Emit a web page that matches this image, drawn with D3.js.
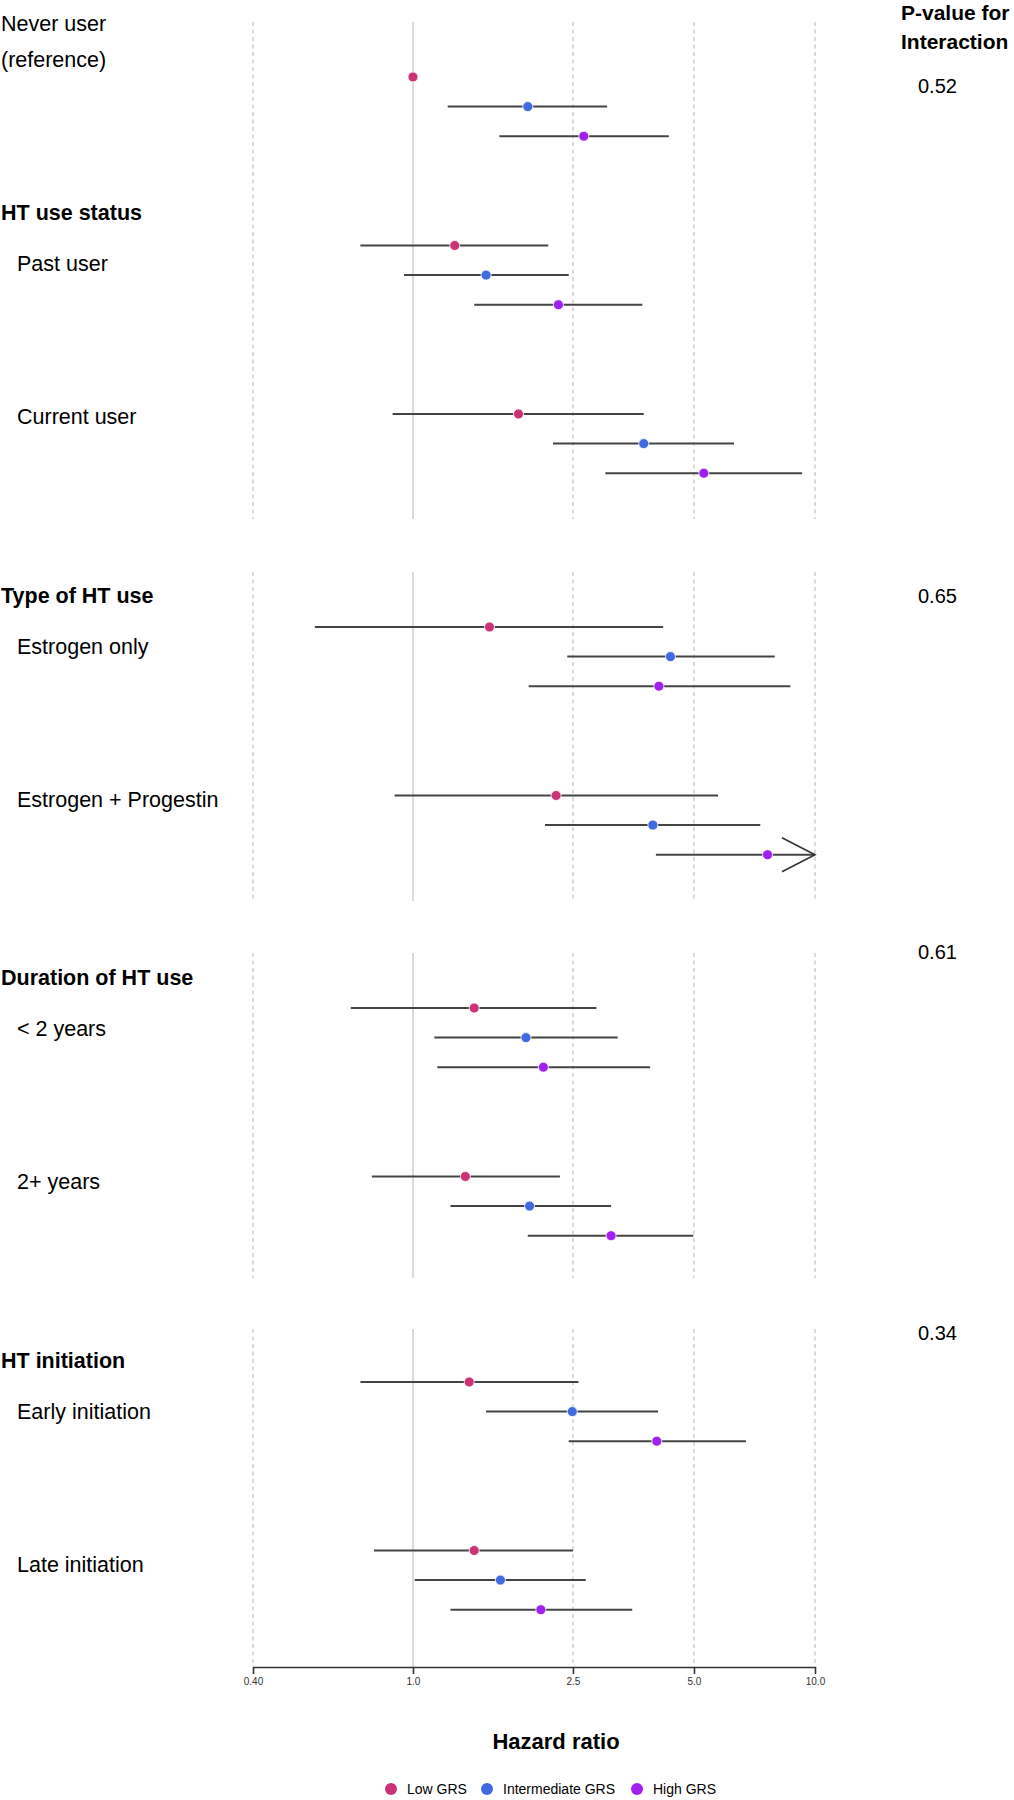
<!DOCTYPE html>
<html>
<head>
<meta charset="utf-8">
<script src="https://cdn.jsdelivr.net/npm/d3@7"></script>
<style>
  html, body { margin: 0; padding: 0; background: #fff; }
  svg { display: block; font-family: "Liberation Sans", Arial, Helvetica, sans-serif; }
</style>
</head>
<body>
<svg id="chart" width="1014" height="1800"></svg>
<script>
// ---------- DATA ----------
const panelHeadings = ["HT use status", "Type of HT use", "Duration of HT use", "HT initiation"];
const pValues = ["0.52", "0.65", "0.61", "0.34"];
const rowLabels = ["Never user (reference)", "Past user", "Current user", "Estrogen only", "Estrogen + Progestin", "< 2 years", "2+ years", "Early initiation", "Late initiation"];
const rowPanel = [0, 0, 0, 1, 1, 2, 2, 3, 3];
const seriesNames = ["Low GRS", "Intermediate GRS", "High GRS"];
const seriesColors = ["#CD3278", "#4169E1", "#A020F0"];

const hrLow    = [1.00, 1.27, 1.83, 1.55, 2.27, 1.42, 1.35, 1.38, 1.42];
const loLow    = [null, 0.74, 0.89, 0.57, 0.90, 0.70, 0.79, 0.74, 0.80];
const hiLow    = [null, 2.17, 3.75, 4.19, 5.74, 2.86, 2.32, 2.58, 2.50];
const hrInt    = [1.93, 1.52, 3.75, 4.37, 3.95, 1.91, 1.95, 2.49, 1.65];
const loInt    = [1.22, 0.95, 2.23, 2.42, 2.13, 1.13, 1.24, 1.52, 1.01];
const hiInt    = [3.04, 2.44, 6.29, 7.94, 7.31, 3.23, 3.11, 4.07, 2.69];
const hrHigh   = [2.66, 2.30, 5.29, 4.09, 7.62, 2.11, 3.11, 4.04, 2.08];
const loHigh   = [1.64, 1.42, 3.01, 1.94, 4.02, 1.15, 1.93, 2.44, 1.24];
const hiHigh   = [4.33, 3.72, 9.29, 8.68, 12.0, 3.89, 4.98, 6.73, 3.51];

const tickValues = [0.40, 1.0, 2.5, 5.0, 10.0];
const tickLabels = ["0.40", "1.0", "2.5", "5.0", "10.0"];
const xLabel = "Hazard ratio";
const pTitle = ["P-value for", "Interaction"];

// ---------- LAYOUT ----------
const svg = d3.select("#chart");
const x = d3.scaleLog().domain([0.40, 10.0]).range([253, 815]);
const xMax = 10.0;

const panelTop = [22, 572, 953, 1329];
const panelBottom = [519, 901, 1278, 1667];
const rowTop = [22, 572, 953, 1327];
const rowStep = 29.6, groupStep = 168.5, firstOffset = 55;
const headingBaseline = [220, 603, 985, 1368];
const pBaseline = [93, 603, 959, 1340];
const labelFont = 21.5;
const axisY = 1667;

// gridlines per panel
panelTop.forEach((top, p) => {
  const g = svg.append("g");
  g.selectAll("line").data(tickValues).join("line")
    .attr("x1", d => x(d)).attr("x2", d => x(d))
    .attr("y1", top).attr("y2", panelBottom[p])
    .attr("stroke", d => d === 1.0 ? "#cfcfcf" : "#bdbdbd")
    .attr("stroke-width", d => d === 1.0 ? 1.5 : 1.1)
    .attr("stroke-dasharray", d => d === 1.0 ? null : "4,3.5");
});

// row y positions
const groupIndex = rowPanel.map((p, i) => rowPanel.slice(0, i).filter(q => q === p).length);
function yRow(i, s) {
  const p = rowPanel[i];
  const ys = d3.scaleLinear().domain([0, 1]).range([rowTop[p] + firstOffset, rowTop[p] + firstOffset + rowStep]);
  return ys(groupIndex[i] * (groupStep / rowStep) + s);
}

const hrs = [hrLow, hrInt, hrHigh];
const los = [loLow, loInt, loHigh];
const his = [hiLow, hiInt, hiHigh];

const marks = [];
rowLabels.forEach((lab, i) => {
  seriesNames.forEach((sn, s) => {
    marks.push({ row: i, s, hr: hrs[s][i], lo: los[s][i], hi: his[s][i] });
  });
});

const gm = svg.append("g");
// CI lines
gm.selectAll("line.ci").data(marks.filter(d => d.lo != null)).join("line")
  .attr("class", "ci")
  .attr("x1", d => x(d.lo))
  .attr("x2", d => x(Math.min(d.hi, xMax)))
  .attr("y1", d => yRow(d.row, d.s)).attr("y2", d => yRow(d.row, d.s))
  .attr("stroke", "#444").attr("stroke-width", 2);
// arrows for truncated CIs
gm.selectAll("path.arrow").data(marks.filter(d => d.hi != null && d.hi > xMax)).join("path")
  .attr("class", "arrow")
  .attr("d", d => {
    const tx = x(xMax), ty = yRow(d.row, d.s);
    return `M${tx - 33},${ty - 17}L${tx},${ty}L${tx - 33},${ty + 17}`;
  })
  .attr("fill", "none").attr("stroke", "#333").attr("stroke-width", 1.6);
// points
gm.selectAll("circle.pt").data(marks).join("circle")
  .attr("class", "pt")
  .attr("cx", d => x(d.hr)).attr("cy", d => yRow(d.row, d.s))
  .attr("r", 5).attr("fill", d => seriesColors[d.s])
  .attr("stroke", "#fff").attr("stroke-width", 0.8);

// left labels
const gl = svg.append("g").attr("font-size", labelFont).attr("fill", "#000");
// never user (two lines)
const nv = rowLabels[0].split(" (");
gl.append("text").attr("x", 1).attr("y", 31).text(nv[0]);
gl.append("text").attr("x", 1).attr("y", 67).text("(" + nv[1]);
// headings
gl.selectAll("text.head").data(panelHeadings).join("text")
  .attr("class", "head")
  .attr("x", 1).attr("y", (d, p) => headingBaseline[p])
  .attr("font-weight", "bold").attr("font-size", 21.5).text(d => d);
// sub labels
const subIdx = rowLabels.map((d, i) => i).filter(i => i > 0);
const subOrder = subIdx.map(i => rowLabels.slice(1, i).filter((_, k) => rowPanel[k + 1] === rowPanel[i]).length);
gl.selectAll("text.sub").data(subIdx).join("text")
  .attr("class", "sub")
  .attr("x", 17)
  .attr("y", (i, k) => headingBaseline[rowPanel[i]] + (subOrder[k] === 0 ? 51 : 204))
  .text(i => rowLabels[i]);

// p-value header and values
const gp = svg.append("g").attr("fill", "#000");
gp.selectAll("text.pt").data(pTitle).join("text")
  .attr("class", "pt").attr("x", 901).attr("y", (d, i) => 20 + i * 29)
  .attr("font-weight", "bold").attr("font-size", 21).text(d => d);
gp.selectAll("text.pv").data(pValues).join("text")
  .attr("class", "pv").attr("x", 918).attr("y", (d, p) => pBaseline[p])
  .attr("font-size", 20).text(d => d);

// axis
const axis = d3.axisBottom(x)
  .tickValues(tickValues)
  .tickFormat((d, i) => tickLabels[i])
  .tickSize(7).tickSizeOuter(0).tickPadding(4);
const ga = svg.append("g").attr("transform", `translate(0,${axisY})`).call(axis);
ga.select(".domain").attr("stroke", "#333").attr("stroke-width", 1.6);
ga.selectAll(".tick line").attr("stroke", "#333").attr("stroke-width", 1.6);
ga.selectAll(".tick text").attr("font-size", 10).attr("fill", "#333")
  .attr("font-family", "\"Liberation Sans\", Arial, sans-serif");

// x label
svg.append("text").attr("x", 556).attr("y", 1749).attr("text-anchor", "middle")
  .attr("font-weight", "bold").attr("font-size", 22).text(xLabel);

// legend
const legX = [391, 487, 637];
const gleg = svg.append("g");
gleg.selectAll("circle").data(seriesNames).join("circle")
  .attr("cx", (d, i) => legX[i]).attr("cy", 1789).attr("r", 6)
  .attr("fill", (d, i) => seriesColors[i]);
gleg.selectAll("text").data(seriesNames).join("text")
  .attr("x", (d, i) => legX[i] + 16).attr("y", 1794)
  .attr("font-size", 14).attr("fill", "#000").text(d => d);
</script>
</body>
</html>
